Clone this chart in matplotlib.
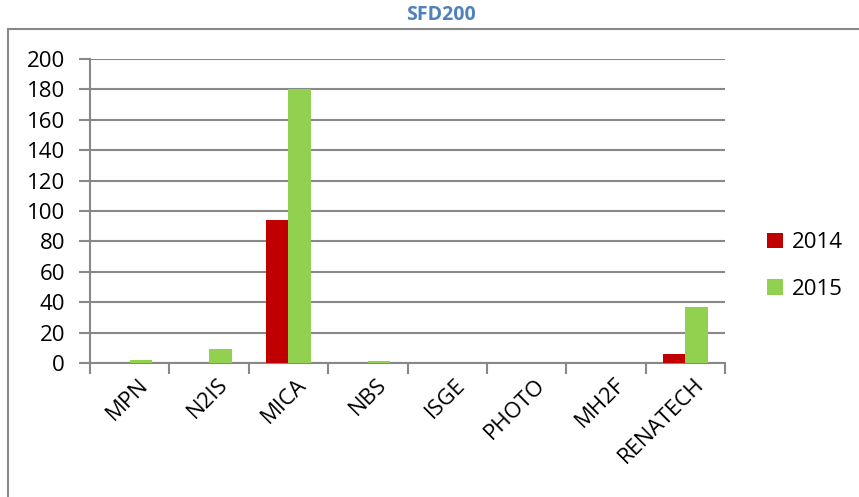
import numpy as np
import matplotlib
matplotlib.use("Agg")
import matplotlib.pyplot as plt
from matplotlib.patches import Rectangle

plt.rcParams['font.family'] = ['Open Sans', 'DejaVu Sans']

categories = ['MPN', 'N2IS', 'MICA', 'NBS', 'ISGE', 'PHOTO', 'MH2F', 'RENATECH']
vals_2014 = [0, 0, 94, 0, 0, 0, 0, 6]
vals_2015 = [2, 9, 180, 1, 0, 0, 0, 37]

fig = plt.figure(figsize=(8.59, 4.97), dpi=100)
ax = fig.add_axes([90/859, 1-363/497, 635/859, 304/497])

# outer frame of the chart area (only top and left edges show)
fig.patches.append(Rectangle((8/859, -0.1), 1.0, 1.1-29/497, transform=fig.transFigure,
                             fill=False, edgecolor='#888888', linewidth=1.5))

x = np.arange(len(categories))
w = 0.285
ax.bar(x - w/2, vals_2014, w, color='#C00000', label='2014', zorder=3)
ax.bar(x + w/2, vals_2015, w, color='#92D050', label='2015', zorder=3)

ax.set_xlim(-0.5, len(categories) - 0.5)
ax.set_ylim(0, 200)
ax.set_yticks(range(0, 201, 20))
ax.yaxis.grid(True, color='#888888', linewidth=1.5, zorder=0)

# ticks on category boundaries, labels at centres
ax.set_xticks(np.arange(-0.5, len(categories), 1.0))
ax.set_xticklabels([])
ax.set_xticks(x + 0.1, minor=True)
ax.set_xticklabels(categories, minor=True, rotation=45, ha='right', va='top',
                   rotation_mode='anchor', fontsize=16)
ax.tick_params(axis='x', which='major', length=8, width=1.5, color='#888888', direction='out')
ax.tick_params(axis='x', which='minor', length=0, pad=8)
ax.tick_params(axis='y', length=8, width=1.5, color='#888888', labelsize=16, pad=10)

for s in ['top', 'right']:
    ax.spines[s].set_visible(False)
for s in ['left', 'bottom']:
    ax.spines[s].set_color('#888888')
    ax.spines[s].set_linewidth(1.5)

fig.text(441/859, 1-15/497, 'SFD200', ha='center', va='center', fontsize=14,
         fontweight='bold', color='#4F81BD')

fig.legend(loc='center left', bbox_to_anchor=(747/859, 1-266/497), frameon=False,
           fontsize=16, handlelength=0.7, handleheight=0.7, labelspacing=1.15,
           handletextpad=0.4)

fig.savefig('out.png', dpi=100)
